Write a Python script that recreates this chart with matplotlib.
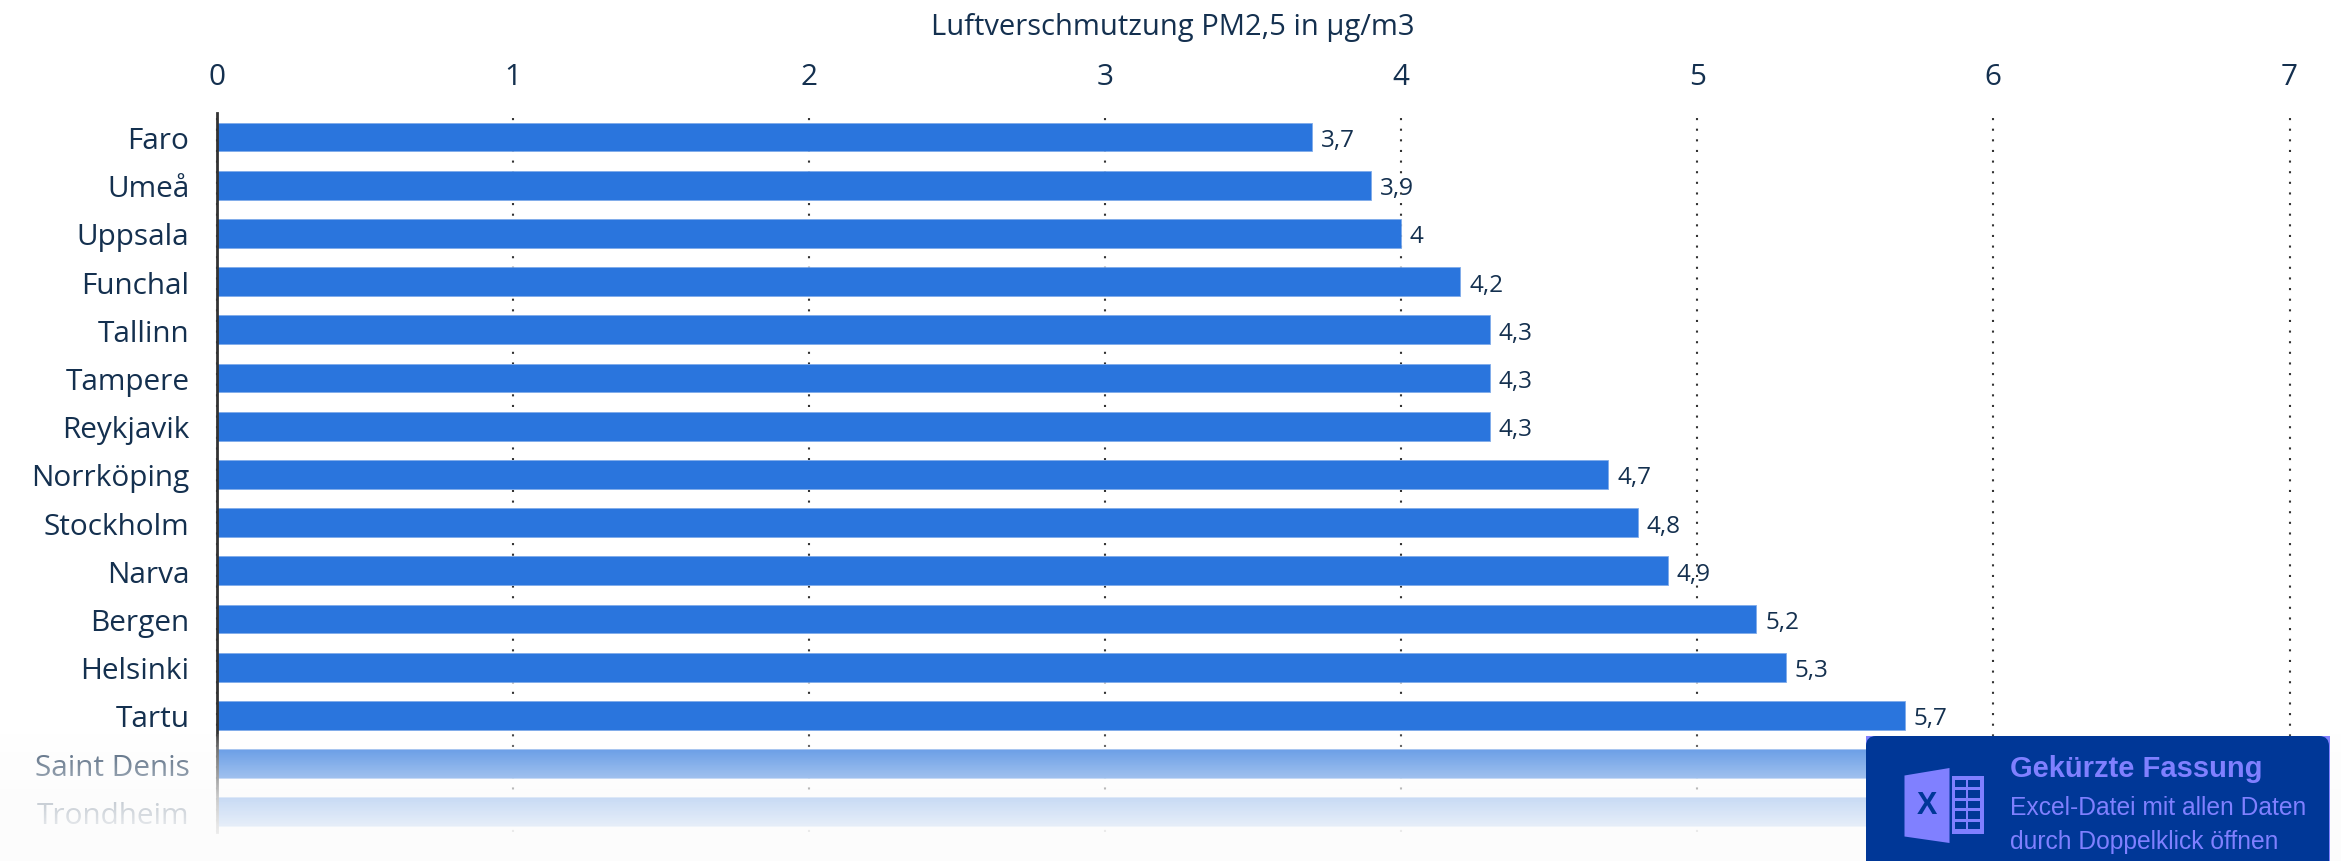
#!/usr/bin/env python3
"""Luftverschmutzung PM2,5: horizontal bars, faded bottom, Excel banner."""

import matplotlib

matplotlib.use("Agg")
import matplotlib.pyplot as plt
import numpy as np
from matplotlib.patches import FancyBboxPatch, Polygon, Rectangle

cities = [
    "Faro", "Umeå", "Uppsala", "Funchal", "Tallinn", "Tampere", "Reykjavik", "Norrköping",
    "Stockholm", "Narva", "Bergen", "Helsinki", "Tartu", "Saint Denis", "Trondheim",
]
pm25 = [3.7, 3.9, 4.0, 4.2, 4.3, 4.3, 4.3, 4.7, 4.8, 4.9, 5.2, 5.3, 5.7, 5.8, 5.9]
x_ticks = [0, 1, 2, 3, 4, 5, 6, 7]

W, H = 2341, 862
TEXT = "#14304f"
BLUE = "#2a75dd"
BANNER = "#003797"
VIOLET = "#8080ff"

plt.rcParams["font.family"] = ["Open Sans", "DejaVu Sans"]

fig = plt.figure(figsize=(W / 100, H / 100), dpi=100)

# main axes placed by pixels: x=0 at 216.5, x=7 at 2289.5
left, right, top, bottom = 216.5, 2289.5, 114, 833
first_row, row_step = 138.0, 48.2
ax = fig.add_axes([left / W, 1 - bottom / H, (right - left) / W, (bottom - top) / H])
ax.set_xlim(0, 7)
ax.set_ylim((bottom - first_row) / row_step, (top - first_row) / row_step)

ypos = np.arange(len(cities))
ax.barh(ypos, pm25, height=0.6, color=BLUE, edgecolor="#7fabea", linewidth=0.6, zorder=3)
for y, v in zip(ypos, pm25):
    ax.text(v + 0.03, y, f"{v:g}".replace(".", ","), va="center_baseline", ha="left",
            fontsize=17.5, color=TEXT, zorder=4)

ax.set_yticks(ypos, cities)
ax.set_xticks(x_ticks)
ax.xaxis.tick_top()
ax.tick_params(axis="x", length=0, pad=15.5, labelsize=21.4, labelcolor=TEXT)
ax.tick_params(axis="y", length=0, pad=19.5, labelsize=21.4, labelcolor=TEXT)
ax.grid(axis="x", color="#333333", lw=1.5, linestyle=(0, (1, 4.1)), zorder=1, clip_on=False)
ax.set_axisbelow(True)
for s in ["top", "right", "bottom"]:
    ax.spines[s].set_visible(False)
ax.spines["left"].set_color("#333333")
ax.spines["left"].set_linewidth(2)
ax.spines["left"].set_zorder(5)

# overlay axes in pixel coordinates for the title, the fade and the banner
ov = fig.add_axes([0, 0, 1, 1], facecolor="none")
ov.axis("off")

ov.text(1173, 27, "Luftverschmutzung PM2,5 in µg/m3", fontsize=21, color=TEXT,
        ha="center", va="center")

rows = np.arange(735, H)
alpha = np.interp(rows, [735, 748, 777, 797, 826, 862], [0.08, 0.3, 0.55, 0.75, 0.9, 1.0])
fade = np.ones((len(rows), 1, 4))
fade[..., :3] = 0.992
fade[:, 0, 3] = alpha
ov.imshow(fade, extent=(0, W, H, 735), aspect="auto", zorder=1, interpolation="bilinear")
ov.set_xlim(0, W)
ov.set_ylim(H, 0)

# banner
ov.add_patch(Rectangle((1866, 737), 464, H - 737, color=VIOLET, lw=0, zorder=2))
ov.add_patch(FancyBboxPatch((1866, 737), 463, 160, boxstyle="round,pad=0,rounding_size=10",
                            fc=BANNER, lw=0, zorder=3))
ov.add_patch(Polygon([(1904.5, 776.5), (1949.5, 769), (1949.5, 844), (1904.5, 837.5)],
                     fc=VIOLET, lw=0, zorder=4))
ov.add_patch(Rectangle((1952, 777), 31.5, 58, fc=VIOLET, lw=0, zorder=4))
for gx, gw in ((1955, 10.5), (1968, 12)):
    for gy in (781, 791.5, 802, 812.5, 823):
        ov.add_patch(Rectangle((gx, gy), gw, 7.5, fc=BANNER, lw=0, zorder=5))
ov.text(1927, 806.5, "X", color=BANNER, fontsize=22, fontweight="bold", ha="center", va="center",
        family="Liberation Sans", zorder=5)
ov.text(2010, 769, "Gekürzte Fassung", color=VIOLET, fontsize=21, fontweight="bold",
        family="Liberation Sans", va="center", zorder=5)
ov.text(2010, 808, "Excel-Datei mit allen Daten", color=VIOLET, fontsize=17.7,
        family="Liberation Sans", va="center", zorder=5)
ov.text(2010, 842, "durch Doppelklick öffnen", color=VIOLET, fontsize=17.7,
        family="Liberation Sans", va="center", zorder=5)

fig.savefig("out.png", dpi=100)
